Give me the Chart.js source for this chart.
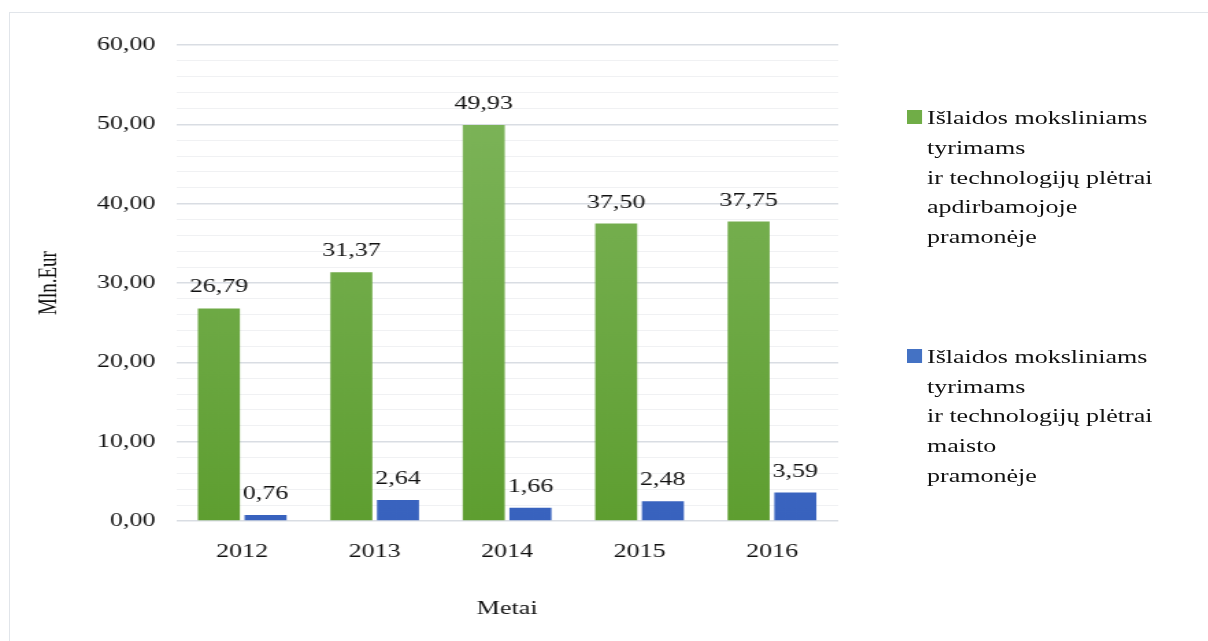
<!DOCTYPE html>
<html>
<head>
<meta charset="utf-8">
<script src="https://cdn.jsdelivr.net/npm/chart.js@4"></script>
<style>
  body { margin: 0; background: #fff; overflow: hidden; }
  #frame { position: absolute; left: 9px; top: 12px; width: 1400px; height: 800px; border: 1px solid #e1e5ea; }
  /* the reference is stretched sideways, so draw narrow and scale */
  #wrap { position: absolute; left: 0; top: 0; width: 882px; height: 641px; transform: scaleX(1.3696); transform-origin: 0 0; }
  #legend { position: absolute; left: 907px; top: 103px; font-family: "Liberation Serif", serif; font-size: 19px; color: #111; line-height: 29.75px; transform: scaleX(1.3696); transform-origin: 0 0; white-space: nowrap; }
  .item { position: relative; padding-left: 14.6px; margin-bottom: 90px; }
  .box { position: absolute; left: 0; top: 7px; width: 11px; height: 14px; }
</style>
</head>
<body>
<div id="frame"></div>
<div id="wrap"><canvas id="chart" width="882" height="641"></canvas></div>
<div id="legend">
  <div class="item"><span class="box" style="background:#70ad47"></span>Išlaidos moksliniams<br>tyrimams<br>ir technologijų plėtrai<br>apdirbamojoje<br>pramonėje</div>
  <div class="item"><span class="box" style="background:#4472c4"></span>Išlaidos moksliniams<br>tyrimams<br>ir technologijų plėtrai<br>maisto<br>pramonėje</div>
</div>
<script>
// data
var years = ['2012', '2013', '2014', '2015', '2016'];
var manufacturing = [26.79, 31.37, 49.93, 37.50, 37.75];
var food = [0.76, 2.64, 1.66, 2.48, 3.59];
var seriesNames = [
  'Išlaidos moksliniams tyrimams ir technologijų plėtrai apdirbamojoje pramonėje',
  'Išlaidos moksliniams tyrimams ir technologijų plėtrai maisto pramonėje'
];

function fmt(v) {
  return v.toFixed(2).replace('.', ',');
}

function grad(top, bottom) {
  return function (ctx) {
    var area = ctx.chart.chartArea;
    if (!area) return bottom;
    var g = ctx.chart.ctx.createLinearGradient(0, area.top, 0, area.bottom);
    g.addColorStop(0, top);
    g.addColorStop(1, bottom);
    return g;
  };
}

//value labels above bars
var valueLabels = {
  id: 'valueLabels',
  afterDatasetsDraw: function (chart) {
    var c = chart.ctx;
    c.save();
    c.font = '19px "Liberation Serif"';
    c.fillStyle = '#111';
    c.textAlign = 'center';
    c.textBaseline = 'alphabetic';
    chart.data.datasets.forEach(function (ds, i) {
      chart.getDatasetMeta(i).data.forEach(function (bar, j) {
        c.fillText(fmt(ds.data[j]), bar.x, bar.y - 16);
      });
    });
    c.restore();
  }
};

var tickFont = { family: 'Liberation Serif', size: 19 };

var ctx = document.getElementById('chart');
var chart = new Chart(ctx, {
  type: 'bar',
  data: {
    labels: years,
    datasets: [
      { label: seriesNames[0], data: manufacturing, backgroundColor: grad('#81b75f', '#5e9e30') },
      { label: seriesNames[1], data: food, backgroundColor: grad('#5d84d4', '#3862be') }
    ]
  },
  options: {
    responsive: false,
    animation: false,
    layout: { padding: { left: 7, top: 45, right: 270, bottom: 0 } },
    datasets: { bar: { categoryPercentage: 0.705, barPercentage: 0.9 } },
    plugins: { legend: { display: false }, tooltip: { enabled: false } },
    scales: {
      x: {
        grid: { display: false },
        border: { display: false },
        ticks: { font: tickFont, color: '#111', padding: 12 },
        title: { display: true, text: 'Metai', font: tickFont, color: '#111', padding: { top: 0, bottom: 21 } },
        afterFit: function (s) { s.height = 120; }
      },
      y: {
        min: 0,
        max: 60,
        border: { display: false },
        ticks: {
          stepSize: 2,
          autoSkip: false,
          font: tickFont,
          color: '#111',
          padding: 15,
          callback: function (v) { return v % 10 === 0 ? fmt(v) : ''; }
        },
        grid: {
          drawTicks: false,
          color: function (c) { return c.tick && c.tick.value % 10 === 0 ? '#d9dde3' : '#f0f1f3'; },
          lineWidth: function (c) { return c.tick && c.tick.value % 10 === 0 ? 1.5 : 1; }
        },
        title: { display: true, text: 'Mln.Eur', font: tickFont, color: '#111', padding: { top: 18, bottom: 0 } },
        afterFit: function (s) { s.width = 121.5; }
      }
    }
  },
  plugins: [valueLabels]
});
</script>
</body>
</html>
